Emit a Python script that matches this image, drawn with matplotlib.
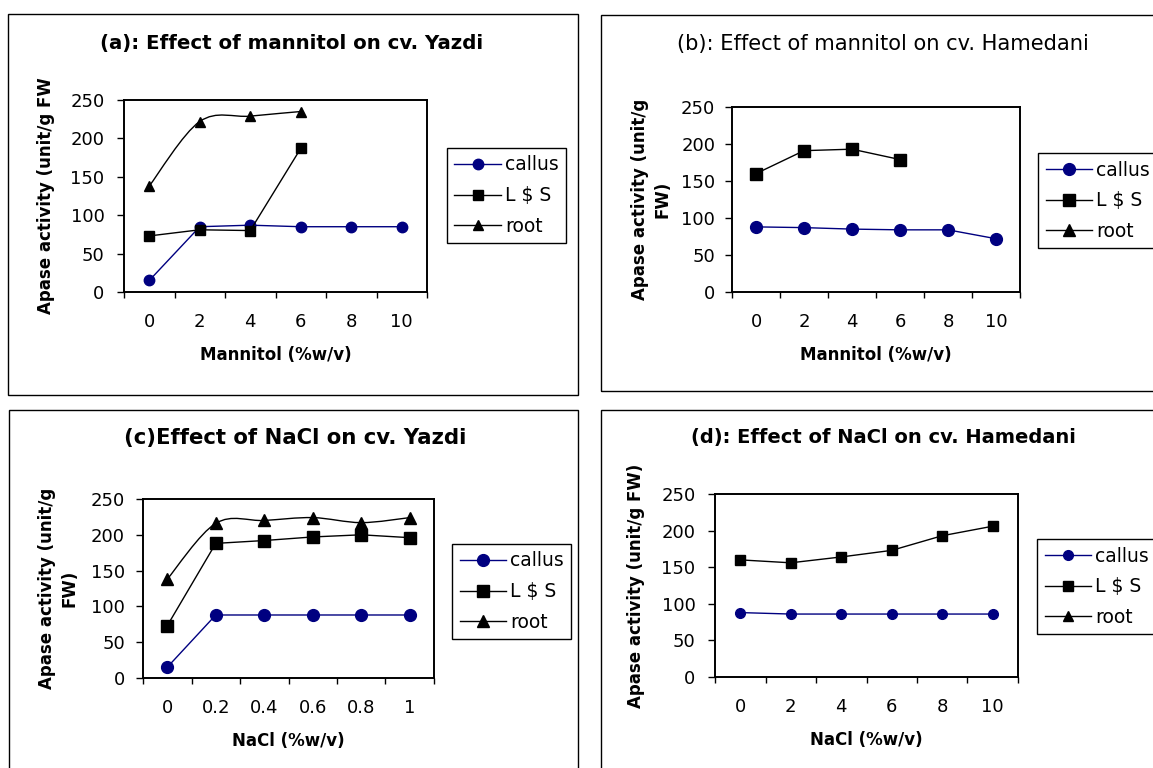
import matplotlib
matplotlib.use("Agg")
import matplotlib.pyplot as plt
from matplotlib.patches import Rectangle, PathPatch
from matplotlib.path import Path
from matplotlib.lines import Line2D

plt.rcParams['font.family'] = ['DejaVu Sans']

# ---- data ----
mannitol_labels = ["0", "2", "4", "6", "8", "10"]
nacl_yazdi_labels = ["0", "0.2", "0.4", "0.6", "0.8", "1"]
nacl_hamedani_labels = ["0", "2", "4", "6", "8", "10"]

a_callus = [15, 85, 87, 85, 85, 85]
a_ls = [73, 81, 80, 187]
a_root = [138, 222, 229, 235]

b_callus = [88, 87, 85, 84, 84, 72]
b_ls = [160, 191, 193, 179]
b_root = []

c_callus = [15, 88, 88, 88, 88, 88]
c_ls = [73, 188, 192, 197, 200, 196]
c_root = [138, 216, 220, 224, 217, 224]

d_callus = [88, 86, 86, 86, 86, 86]
d_ls = [160, 156, 164, 173, 193, 206]
d_root = []

series_names = ["callus", "L $ S", "root"]
y_ticks = [0, 50, 100, 150, 200, 250]

W, H = 1153, 768
fig = plt.figure(figsize=(W / 100, H / 100), dpi=100)


def rect(l, t, r, b):
    return [l / W, 1 - b / H, (r - l) / W, (b - t) / H]


def smooth_path(xs, ys):
    # Bezier smoothing (like a spreadsheet "smoothed line") through the points
    pts = list(zip(xs, ys))
    verts = [pts[0]]
    codes = [Path.MOVETO]
    n = len(pts)
    for i in range(n - 1):
        p0 = pts[i - 1] if i > 0 else pts[i]
        p1 = pts[i]
        p2 = pts[i + 1]
        p3 = pts[i + 2] if i + 2 < n else pts[i + 1]
        c1 = (p1[0] + (p2[0] - p0[0]) / 6, p1[1] + (p2[1] - p0[1]) / 6)
        c2 = (p2[0] - (p3[0] - p1[0]) / 6, p2[1] - (p3[1] - p1[1]) / 6)
        verts += [c1, c2, p2]
        codes += [Path.CURVE4] * 3
    return Path(verts, codes)


# panel frames
for (l, t, r, b) in [(8, 14, 578, 395), (601, 15, 1165, 391),
                     (9, 410, 578, 780), (601, 410, 1165, 780)]:
    fig.patches.append(Rectangle((l / W, 1 - b / H), (r - l) / W, (b - t) / H,
                                 transform=fig.transFigure, fill=False,
                                 edgecolor='black', linewidth=1.0))

panels = [
    dict(pos=(124, 100, 427, 292), labels=mannitol_labels,
         data=[a_callus, a_ls, a_root], smooth=True,
         title="(a): Effect of mannitol on cv. Yazdi",
         tpos=(292, 43), tweight='bold', tsize=14.2,
         xlabel="Mannitol (%w/v)", ylabel="Apase activity (unit/g FW",
         ylx=46, leg=(447, 148), msc=7.5, mss=7.5, ypad=9),
    dict(pos=(732, 107, 1020, 292), labels=mannitol_labels,
         data=[b_callus, b_ls, b_root], smooth=False,
         title="(b): Effect of mannitol on cv. Hamedani",
         tpos=(883, 44), tweight='normal', tsize=15.1,
         xlabel="Mannitol (%w/v)", ylabel="Apase activity (unit/g\nFW)",
         ylx=651, leg=(1038, 153), msc=8.5, mss=8.5, ypad=7),
    dict(pos=(143, 499, 434, 678), labels=nacl_yazdi_labels,
         data=[c_callus, c_ls, c_root], smooth=True,
         title="(c)Effect of NaCl on cv. Yazdi",
         tpos=(295, 438), tweight='bold', tsize=15.3,
         xlabel="NaCl (%w/v)", ylabel="Apase activity (unit/g\nFW)",
         ylx=58, leg=(452, 544), msc=8.5, mss=8.5, ypad=8),
    dict(pos=(715, 494, 1018, 677), labels=nacl_hamedani_labels,
         data=[d_callus, d_ls, d_root], smooth=False,
         title="(d): Effect of NaCl on cv. Hamedani",
         tpos=(883, 438), tweight='bold', tsize=14.0,
         xlabel="NaCl (%w/v)", ylabel="Apase activity (unit/g FW)",
         ylx=636, leg=(1037, 539), msc=7, mss=7, ypad=9),
]

for p in panels:
    ax = fig.add_axes(rect(*p['pos']))
    callus, ls, root = p['data']
    h1, = ax.plot(range(len(callus)), callus, color='#000080', marker='o',
                  markersize=p['msc'], linewidth=1.0, label=series_names[0])
    h2, = ax.plot(range(len(ls)), ls, color='black', marker='s',
                  markersize=p['mss'], linewidth=1.0, label=series_names[1])
    if p['smooth'] and len(root) > 1:
        ax.add_patch(PathPatch(smooth_path(list(range(len(root))), root),
                               facecolor='none', edgecolor='black', linewidth=1.0))
        ax.plot(range(len(root)), root, color='black', marker='^',
                markersize=p['mss'], linestyle='none')
    else:
        ax.plot(range(len(root)), root, color='black', marker='^',
                markersize=p['mss'], linewidth=1.0)
    h3 = Line2D([], [], color='black', marker='^', markersize=p['mss'],
                linewidth=1.0, label=series_names[2])
    n = len(p['labels'])
    ax.set_xlim(-0.5, n - 0.5)
    ax.set_ylim(0, 250)
    ax.set_xticks(range(n))
    ax.set_xticklabels(p['labels'], fontsize=13)
    ax.set_xticks([i - 0.5 for i in range(n + 1)], minor=True)
    ax.tick_params(axis='x', which='major', length=0, pad=15)
    ax.tick_params(axis='x', which='minor', length=4.5, direction='out', width=1.0)
    ax.set_yticks(y_ticks)
    ax.set_yticklabels([str(v) for v in y_ticks], fontsize=13)
    ax.tick_params(axis='y', length=5, direction='out', width=1.0, pad=p['ypad'])
    for s in ax.spines.values():
        s.set_linewidth(1.4)
        s.set_color('black')
    l, t, r, b = p['pos']
    ax.set_xlabel(p['xlabel'], fontsize=12, fontweight='bold', labelpad=11)
    fig.text(p['ylx'] / W, 1 - ((t + b) / 2) / H, p['ylabel'], rotation=90,
             ha='center', va='center', fontsize=12, fontweight='bold',
             multialignment='center', linespacing=1.3)
    fig.text(p['tpos'][0] / W, 1 - p['tpos'][1] / H, p['title'], ha='center',
             va='center', fontsize=p['tsize'], fontweight=p['tweight'])
    leg = ax.legend(handles=[h1, h2, h3], loc='upper left',
                    bbox_to_anchor=(p['leg'][0] / W, 1 - p['leg'][1] / H),
                    bbox_transform=fig.transFigure, borderaxespad=0,
                    fontsize=13.5, frameon=True, fancybox=False,
                    edgecolor='black', framealpha=1, handlelength=2.5,
                    handletextpad=0.2, labelspacing=0.62, borderpad=0.4)
    leg.get_frame().set_linewidth(1.0)

fig.savefig("out.png", dpi=100)
